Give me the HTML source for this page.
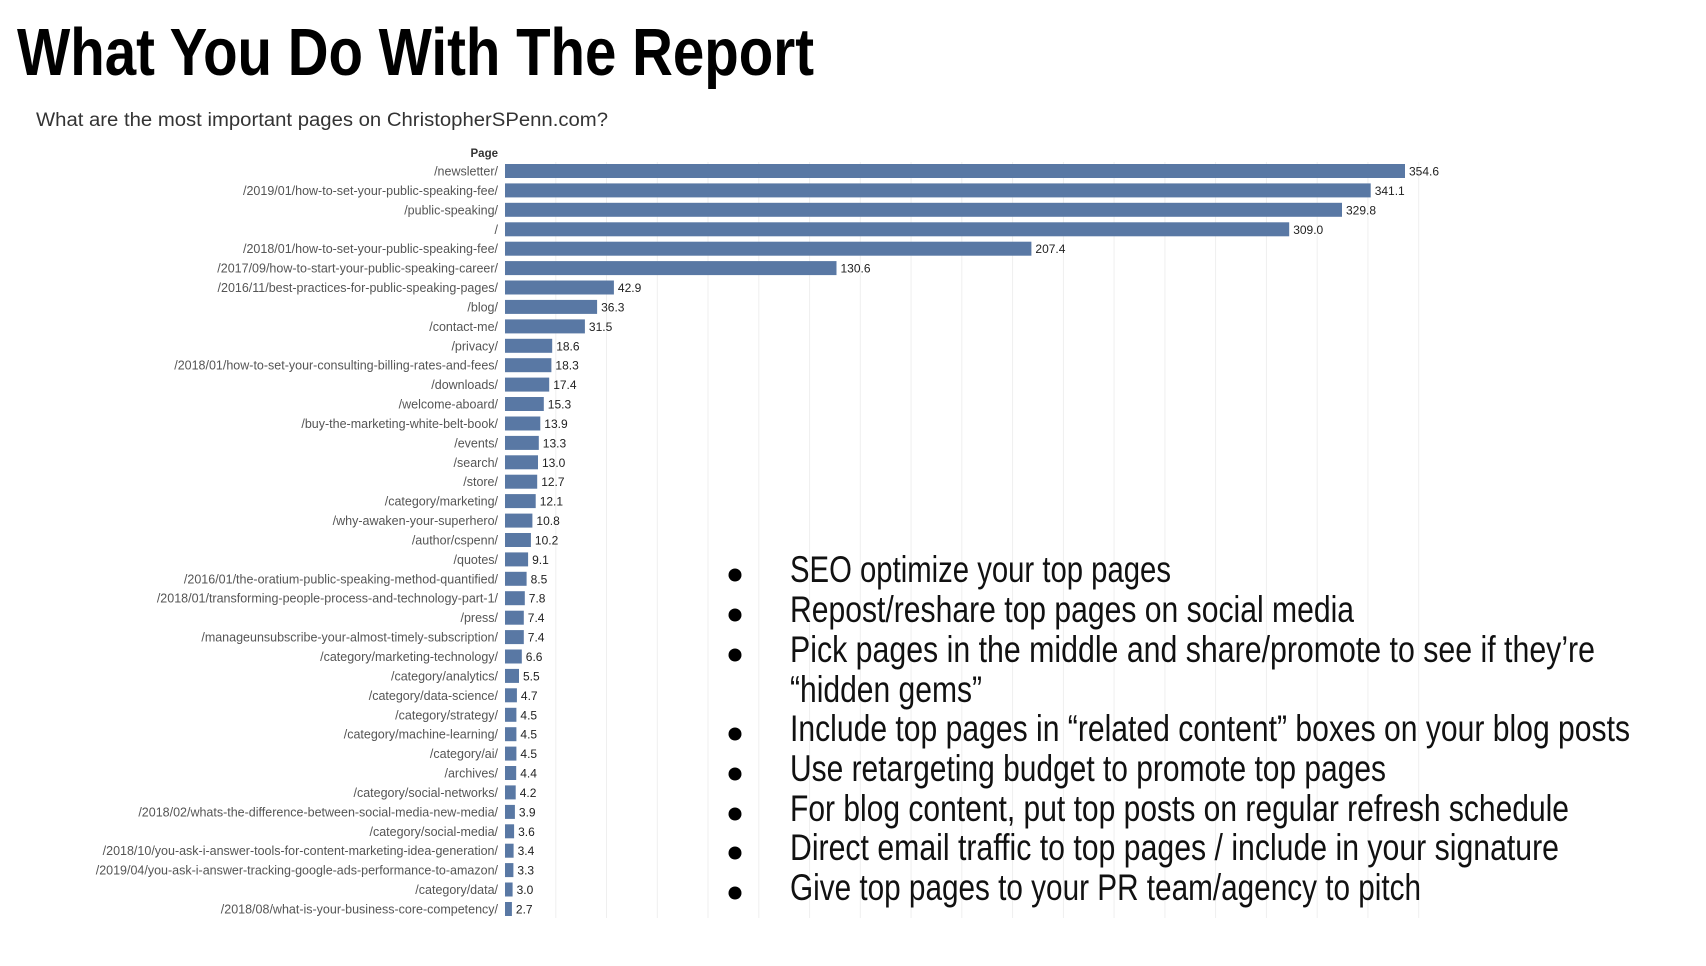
<!DOCTYPE html>
<html><head><meta charset="utf-8"><style>
html,body{margin:0;padding:0;background:#fff;width:1706px;height:966px;overflow:hidden}
svg{display:block}
.l{font-family:"Liberation Sans Narrow","Liberation Sans",sans-serif;font-size:12.5px;fill:#555;text-anchor:end}
.v{font-family:"Liberation Sans Narrow","Liberation Sans",sans-serif;font-size:12px;fill:#222}
.b{font-family:"Liberation Sans Narrow","Liberation Sans",sans-serif;font-size:37px;fill:#111}
rect.bar{fill:#5978a4}
</style></head><body>
<svg width="1706" height="966" viewBox="0 0 1706 966" xmlns="http://www.w3.org/2000/svg">
<text x="17" y="75" font-family="Liberation Sans Narrow, Liberation Sans, sans-serif" font-weight="bold" font-size="67" textLength="797" lengthAdjust="spacingAndGlyphs" fill="#000">What You Do With The Report</text>
<text x="36" y="126" font-family="Liberation Sans, sans-serif" font-size="19" textLength="572" lengthAdjust="spacingAndGlyphs" fill="#333">What are the most important pages on ChristopherSPenn.com?</text>
<text x="498" y="157" font-family="Liberation Sans, sans-serif" font-weight="bold" font-size="11.5" text-anchor="end" fill="#333">Page</text>
<g stroke="#efefef" stroke-width="1">
<line x1="555.8" y1="162" x2="555.8" y2="918"/><line x1="606.5" y1="162" x2="606.5" y2="918"/><line x1="657.3" y1="162" x2="657.3" y2="918"/><line x1="708" y1="162" x2="708" y2="918"/><line x1="758.8" y1="162" x2="758.8" y2="918"/><line x1="809.6" y1="162" x2="809.6" y2="918"/><line x1="860.3" y1="162" x2="860.3" y2="918"/><line x1="911.1" y1="162" x2="911.1" y2="918"/><line x1="961.8" y1="162" x2="961.8" y2="918"/><line x1="1012.6" y1="162" x2="1012.6" y2="918"/><line x1="1063.4" y1="162" x2="1063.4" y2="918"/><line x1="1114.1" y1="162" x2="1114.1" y2="918"/><line x1="1164.9" y1="162" x2="1164.9" y2="918"/><line x1="1215.6" y1="162" x2="1215.6" y2="918"/><line x1="1266.4" y1="162" x2="1266.4" y2="918"/><line x1="1317.2" y1="162" x2="1317.2" y2="918"/><line x1="1367.9" y1="162" x2="1367.9" y2="918"/><line x1="1418.7" y1="162" x2="1418.7" y2="918"/>
</g>
<g transform="translate(0,171)"><text class="l" x="498" y="4.5">/newsletter/</text><rect class="bar" x="505" y="-7" width="900" height="14"/><text class="v" x="1409" y="4.5">354.6</text></g>
<g transform="translate(0,190.4)"><text class="l" x="498" y="4.5">/2019/01/how-to-set-your-public-speaking-fee/</text><rect class="bar" x="505" y="-7" width="865.7" height="14"/><text class="v" x="1374.7" y="4.5">341.1</text></g>
<g transform="translate(0,209.8)"><text class="l" x="498" y="4.5">/public-speaking/</text><rect class="bar" x="505" y="-7" width="837" height="14"/><text class="v" x="1346" y="4.5">329.8</text></g>
<g transform="translate(0,229.3)"><text class="l" x="498" y="4.5">/</text><rect class="bar" x="505" y="-7" width="784.2" height="14"/><text class="v" x="1293.2" y="4.5">309.0</text></g>
<g transform="translate(0,248.7)"><text class="l" x="498" y="4.5">/2018/01/how-to-set-your-public-speaking-fee/</text><rect class="bar" x="505" y="-7" width="526.4" height="14"/><text class="v" x="1035.4" y="4.5">207.4</text></g>
<g transform="translate(0,268.1)"><text class="l" x="498" y="4.5">/2017/09/how-to-start-your-public-speaking-career/</text><rect class="bar" x="505" y="-7" width="331.5" height="14"/><text class="v" x="840.5" y="4.5">130.6</text></g>
<g transform="translate(0,287.5)"><text class="l" x="498" y="4.5">/2016/11/best-practices-for-public-speaking-pages/</text><rect class="bar" x="505" y="-7" width="108.9" height="14"/><text class="v" x="617.9" y="4.5">42.9</text></g>
<g transform="translate(0,306.9)"><text class="l" x="498" y="4.5">/blog/</text><rect class="bar" x="505" y="-7" width="92.1" height="14"/><text class="v" x="601.1" y="4.5">36.3</text></g>
<g transform="translate(0,326.4)"><text class="l" x="498" y="4.5">/contact-me/</text><rect class="bar" x="505" y="-7" width="79.9" height="14"/><text class="v" x="588.9" y="4.5">31.5</text></g>
<g transform="translate(0,345.8)"><text class="l" x="498" y="4.5">/privacy/</text><rect class="bar" x="505" y="-7" width="47.2" height="14"/><text class="v" x="556.2" y="4.5">18.6</text></g>
<g transform="translate(0,365.2)"><text class="l" x="498" y="4.5">/2018/01/how-to-set-your-consulting-billing-rates-and-fees/</text><rect class="bar" x="505" y="-7" width="46.4" height="14"/><text class="v" x="555.4" y="4.5">18.3</text></g>
<g transform="translate(0,384.6)"><text class="l" x="498" y="4.5">/downloads/</text><rect class="bar" x="505" y="-7" width="44.2" height="14"/><text class="v" x="553.2" y="4.5">17.4</text></g>
<g transform="translate(0,404)"><text class="l" x="498" y="4.5">/welcome-aboard/</text><rect class="bar" x="505" y="-7" width="38.8" height="14"/><text class="v" x="547.8" y="4.5">15.3</text></g>
<g transform="translate(0,423.5)"><text class="l" x="498" y="4.5">/buy-the-marketing-white-belt-book/</text><rect class="bar" x="505" y="-7" width="35.3" height="14"/><text class="v" x="544.3" y="4.5">13.9</text></g>
<g transform="translate(0,442.9)"><text class="l" x="498" y="4.5">/events/</text><rect class="bar" x="505" y="-7" width="33.8" height="14"/><text class="v" x="542.8" y="4.5">13.3</text></g>
<g transform="translate(0,462.3)"><text class="l" x="498" y="4.5">/search/</text><rect class="bar" x="505" y="-7" width="33" height="14"/><text class="v" x="542" y="4.5">13.0</text></g>
<g transform="translate(0,481.7)"><text class="l" x="498" y="4.5">/store/</text><rect class="bar" x="505" y="-7" width="32.2" height="14"/><text class="v" x="541.2" y="4.5">12.7</text></g>
<g transform="translate(0,501.1)"><text class="l" x="498" y="4.5">/category/marketing/</text><rect class="bar" x="505" y="-7" width="30.7" height="14"/><text class="v" x="539.7" y="4.5">12.1</text></g>
<g transform="translate(0,520.6)"><text class="l" x="498" y="4.5">/why-awaken-your-superhero/</text><rect class="bar" x="505" y="-7" width="27.4" height="14"/><text class="v" x="536.4" y="4.5">10.8</text></g>
<g transform="translate(0,540)"><text class="l" x="498" y="4.5">/author/cspenn/</text><rect class="bar" x="505" y="-7" width="25.9" height="14"/><text class="v" x="534.9" y="4.5">10.2</text></g>
<g transform="translate(0,559.4)"><text class="l" x="498" y="4.5">/quotes/</text><rect class="bar" x="505" y="-7" width="23.1" height="14"/><text class="v" x="532.1" y="4.5">9.1</text></g>
<g transform="translate(0,578.8)"><text class="l" x="498" y="4.5">/2016/01/the-oratium-public-speaking-method-quantified/</text><rect class="bar" x="505" y="-7" width="21.6" height="14"/><text class="v" x="530.6" y="4.5">8.5</text></g>
<g transform="translate(0,598.2)"><text class="l" x="498" y="4.5">/2018/01/transforming-people-process-and-technology-part-1/</text><rect class="bar" x="505" y="-7" width="19.8" height="14"/><text class="v" x="528.8" y="4.5">7.8</text></g>
<g transform="translate(0,617.7)"><text class="l" x="498" y="4.5">/press/</text><rect class="bar" x="505" y="-7" width="18.8" height="14"/><text class="v" x="527.8" y="4.5">7.4</text></g>
<g transform="translate(0,637.1)"><text class="l" x="498" y="4.5">/manageunsubscribe-your-almost-timely-subscription/</text><rect class="bar" x="505" y="-7" width="18.8" height="14"/><text class="v" x="527.8" y="4.5">7.4</text></g>
<g transform="translate(0,656.5)"><text class="l" x="498" y="4.5">/category/marketing-technology/</text><rect class="bar" x="505" y="-7" width="16.8" height="14"/><text class="v" x="525.8" y="4.5">6.6</text></g>
<g transform="translate(0,675.9)"><text class="l" x="498" y="4.5">/category/analytics/</text><rect class="bar" x="505" y="-7" width="14" height="14"/><text class="v" x="523" y="4.5">5.5</text></g>
<g transform="translate(0,695.3)"><text class="l" x="498" y="4.5">/category/data-science/</text><rect class="bar" x="505" y="-7" width="11.9" height="14"/><text class="v" x="520.9" y="4.5">4.7</text></g>
<g transform="translate(0,714.8)"><text class="l" x="498" y="4.5">/category/strategy/</text><rect class="bar" x="505" y="-7" width="11.4" height="14"/><text class="v" x="520.4" y="4.5">4.5</text></g>
<g transform="translate(0,734.2)"><text class="l" x="498" y="4.5">/category/machine-learning/</text><rect class="bar" x="505" y="-7" width="11.4" height="14"/><text class="v" x="520.4" y="4.5">4.5</text></g>
<g transform="translate(0,753.6)"><text class="l" x="498" y="4.5">/category/ai/</text><rect class="bar" x="505" y="-7" width="11.4" height="14"/><text class="v" x="520.4" y="4.5">4.5</text></g>
<g transform="translate(0,773)"><text class="l" x="498" y="4.5">/archives/</text><rect class="bar" x="505" y="-7" width="11.2" height="14"/><text class="v" x="520.2" y="4.5">4.4</text></g>
<g transform="translate(0,792.4)"><text class="l" x="498" y="4.5">/category/social-networks/</text><rect class="bar" x="505" y="-7" width="10.7" height="14"/><text class="v" x="519.7" y="4.5">4.2</text></g>
<g transform="translate(0,811.9)"><text class="l" x="498" y="4.5">/2018/02/whats-the-difference-between-social-media-new-media/</text><rect class="bar" x="505" y="-7" width="9.9" height="14"/><text class="v" x="518.9" y="4.5">3.9</text></g>
<g transform="translate(0,831.3)"><text class="l" x="498" y="4.5">/category/social-media/</text><rect class="bar" x="505" y="-7" width="9.1" height="14"/><text class="v" x="518.1" y="4.5">3.6</text></g>
<g transform="translate(0,850.7)"><text class="l" x="498" y="4.5">/2018/10/you-ask-i-answer-tools-for-content-marketing-idea-generation/</text><rect class="bar" x="505" y="-7" width="8.6" height="14"/><text class="v" x="517.6" y="4.5">3.4</text></g>
<g transform="translate(0,870.1)"><text class="l" x="498" y="4.5">/2019/04/you-ask-i-answer-tracking-google-ads-performance-to-amazon/</text><rect class="bar" x="505" y="-7" width="8.4" height="14"/><text class="v" x="517.4" y="4.5">3.3</text></g>
<g transform="translate(0,889.5)"><text class="l" x="498" y="4.5">/category/data/</text><rect class="bar" x="505" y="-7" width="7.6" height="14"/><text class="v" x="516.6" y="4.5">3.0</text></g>
<g transform="translate(0,909)"><text class="l" x="498" y="4.5">/2018/08/what-is-your-business-core-competency/</text><rect class="bar" x="505" y="-7" width="6.9" height="14"/><text class="v" x="515.9" y="4.5">2.7</text></g>
<g fill="#000">
<circle cx="735" cy="575" r="6.5"/><circle cx="735" cy="615" r="6.5"/><circle cx="735" cy="655" r="6.5"/><circle cx="735" cy="734" r="6.5"/><circle cx="735" cy="774" r="6.5"/><circle cx="735" cy="814" r="6.5"/><circle cx="735" cy="853" r="6.5"/><circle cx="735" cy="893" r="6.5"/>
</g>
<text class="b" x="790" y="582" textLength="381" lengthAdjust="spacingAndGlyphs">SEO optimize your top pages</text>
<text class="b" x="790" y="622" textLength="564" lengthAdjust="spacingAndGlyphs">Repost/reshare top pages on social media</text>
<text class="b" x="790" y="662" textLength="805" lengthAdjust="spacingAndGlyphs">Pick pages in the middle and share/promote to see if they’re</text>
<text class="b" x="790" y="702" textLength="192" lengthAdjust="spacingAndGlyphs">“hidden gems”</text>
<text class="b" x="790" y="741" textLength="840" lengthAdjust="spacingAndGlyphs">Include top pages in “related content” boxes on your blog posts</text>
<text class="b" x="790" y="781" textLength="596" lengthAdjust="spacingAndGlyphs">Use retargeting budget to promote top pages</text>
<text class="b" x="790" y="821" textLength="779" lengthAdjust="spacingAndGlyphs">For blog content, put top posts on regular refresh schedule</text>
<text class="b" x="790" y="860" textLength="769" lengthAdjust="spacingAndGlyphs">Direct email traffic to top pages / include in your signature</text>
<text class="b" x="790" y="900" textLength="631" lengthAdjust="spacingAndGlyphs">Give top pages to your PR team/agency to pitch</text>
</svg>
</body></html>
